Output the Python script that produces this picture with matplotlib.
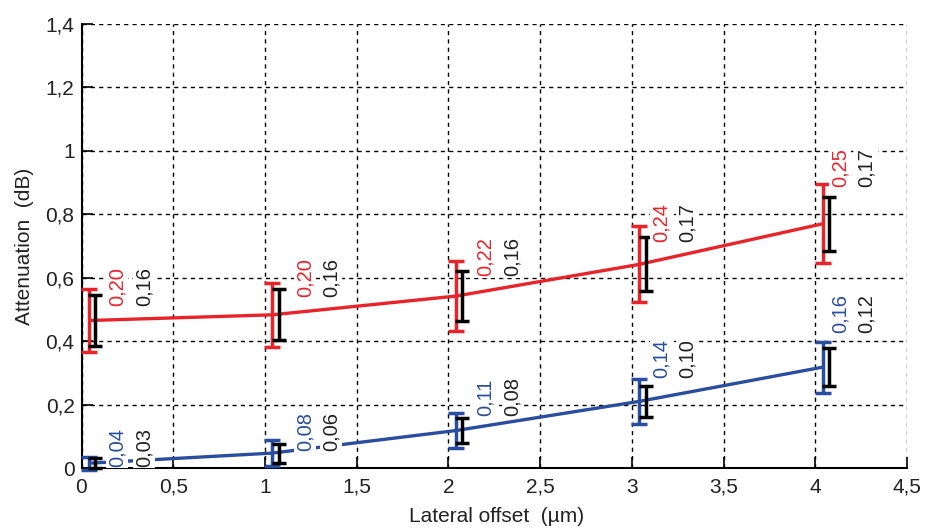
import matplotlib
matplotlib.use("Agg")
import matplotlib.pyplot as plt
import numpy as np

plt.rcParams['font.family'] = ['Liberation Sans', 'DejaVu Sans']

# ---- data ----
offsets = [0, 1, 2, 3, 4]
red_mean = [0.465, 0.483, 0.542, 0.642, 0.770]
red_spread = [0.20, 0.20, 0.22, 0.24, 0.25]
red_black_spread = [0.16, 0.16, 0.16, 0.17, 0.17]
blue_mean = [0.015, 0.047, 0.118, 0.210, 0.318]
blue_spread = [0.04, 0.08, 0.11, 0.14, 0.16]
blue_black_spread = [0.03, 0.06, 0.08, 0.10, 0.12]
xtick_labels = ['0', '0,5', '1', '1,5', '2', '2,5', '3', '3,5', '4', '4,5']
ytick_labels = ['0', '0,2', '0,4', '0,6', '0,8', '1', '1,2', '1,4']

RED = '#e8242b'
BLUE = '#2a4e9f'
TXT = '#222222'

fig = plt.figure(figsize=(9.25, 5.29), dpi=100)
ax = fig.add_axes([81.5 / 925, 1 - 468 / 529, (907 - 81.5) / 925, (468 - 24) / 529])

xs = np.array(offsets, dtype=float)
xc = xs + 0.04   # coloured bar position
xk = xs + 0.075  # black bar position

for mean, spread, bspread, col in [(red_mean, red_spread, red_black_spread, RED),
                                   (blue_mean, blue_spread, blue_black_spread, BLUE)]:
    mean = np.array(mean)
    ax.plot(xc, mean, color=col, lw=2.4, zorder=3, solid_capstyle='butt')
    ax.errorbar(xc, mean, yerr=np.array(spread) / 2, fmt='none', ecolor=col,
                elinewidth=2.5, capsize=5.5, capthick=2.5, zorder=4, clip_on=False)
    ax.errorbar(xk, mean, yerr=np.array(bspread) / 2, fmt='none', ecolor='black',
                elinewidth=2.5, capsize=5, capthick=2.5, zorder=5, clip_on=False)

# value annotations (rotated)
red_lab_y = [0.512, 0.540, 0.605, 0.712, 0.887]
blue_lab_y = [0.003, 0.055, 0.163, 0.283, 0.425]
lab_dx_c = [0.195, 0.22, 0.20, 0.16, 0.135]
lab_dx_k = [0.34, 0.36, 0.35, 0.30, 0.28]
box = dict(facecolor='white', edgecolor='none', pad=1.0)

def fmt(v):
    return f"{v:.2f}".replace('.', ',')

for i in range(5):
    for ly, sp, bsp, col in [(red_lab_y[i], red_spread[i], red_black_spread[i], RED),
                             (blue_lab_y[i], blue_spread[i], blue_black_spread[i], BLUE)]:
        ax.text(xs[i] + lab_dx_c[i], ly, fmt(sp), rotation=90, color=col,
                ha='center', va='bottom', fontsize=14.5, bbox=box, zorder=6)
        ax.text(xs[i] + lab_dx_k[i], ly, fmt(bsp), rotation=90, color=TXT,
                ha='center', va='bottom', fontsize=14.5, bbox=box, zorder=6)

ax.set_xlim(0, 4.5)
ax.set_ylim(0, 1.4)
ax.set_xticks(np.arange(0, 4.51, 0.5))
ax.set_xticklabels(xtick_labels, fontsize=15, color=TXT)
ax.set_yticks(np.arange(0, 1.41, 0.2))
ax.set_yticklabels(ytick_labels, fontsize=15, color=TXT)
ax.tick_params(direction='in', length=8, width=1.2)
ax.tick_params(axis='x', pad=7)
ax.tick_params(axis='y', pad=5)

ax.grid(True, color='black', linestyle=(0, (3, 3)), lw=1.0, zorder=0)
ax.set_axisbelow(True)
for s in ['top', 'right']:
    ax.spines[s].set_visible(False)
for s in ['left', 'bottom']:
    ax.spines[s].set_linewidth(1.5)

ax.set_xlabel('Lateral offset  (µm)', fontsize=15, color=TXT)
ax.xaxis.set_label_coords(0.503, -0.088)
ax.set_ylabel('Attenuation  (dB)', fontsize=15, color=TXT)
ax.yaxis.set_label_coords(-0.058, 0.5)

fig.savefig('out.png', dpi=100)
